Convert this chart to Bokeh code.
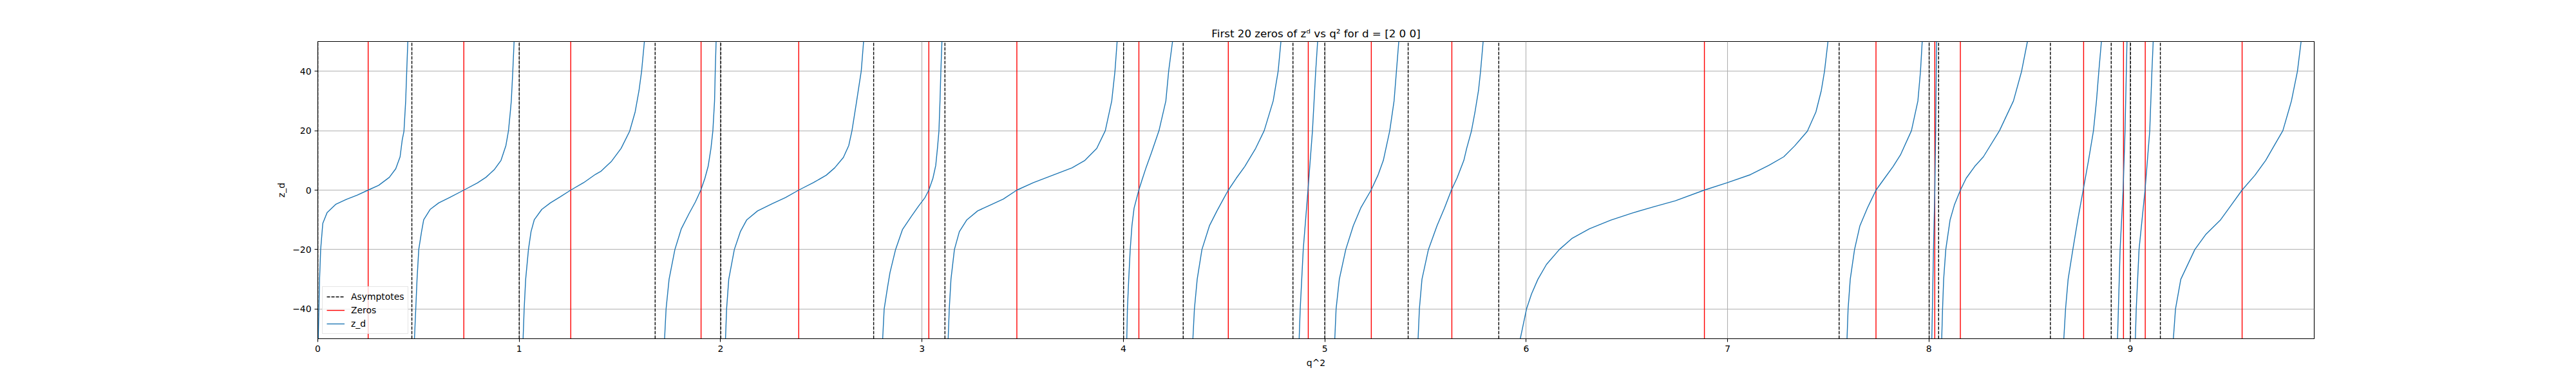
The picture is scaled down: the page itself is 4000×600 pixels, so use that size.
from bokeh.plotting import figure
from bokeh.models import Range1d, FixedTicker
from bokeh.embed import file_html
from bokeh.resources import INLINE

# axis limits and ticks
X_LO, X_HI = 0.0, 9.913
Y_LO, Y_HI = -50, 50
x_ticks = [0, 1, 2, 3, 4, 5, 6, 7, 8, 9]
y_ticks = [-40, -20, 0, 20, 40]

# poles (dashed black) and zeros (red)
asymptotes = [0.0, 0.467, 1.0, 1.675, 2.001, 2.760, 3.114, 4.001, 4.297, 4.842,
              5.0, 5.414, 5.864, 7.554, 8.001, 8.048, 8.603, 8.905, 9.001, 9.149]
zeros = [0.250, 0.725, 1.256, 1.903, 2.388, 3.034, 3.471, 4.077, 4.521, 4.918,
         5.231, 5.631, 6.885, 7.737, 8.029, 8.156, 8.768, 8.966, 9.074, 9.555]

# z_d, one branch between each pair of poles (q^2, z_d)
b1_x = [0.0023, 0.0055, 0.0087, 0.0141, 0.0247, 0.0461, 0.0887, 0.142, 0.1953, 0.2497,
        0.302, 0.3552, 0.3871, 0.4085, 0.4192, 0.4277, 0.4362, 0.4415, 0.4469]
b1_y = [-50, -40, -30, -20, -11.2, -7.6, -4.8, -3.1, -1.7, 0,
        1.6, 4.3, 7.2, 11.2, 16.9, 19.8, 29.9, 40, 50]
b2_x = [0.4799, 0.4863, 0.4927, 0.5012, 0.5151, 0.5257, 0.5577, 0.6004, 0.6537, 0.7251,
        0.7923, 0.8349, 0.8776, 0.9096, 0.934, 0.9468, 0.9554, 0.9607, 0.9682, 0.9746]
b2_y = [-50, -40, -30, -20, -14, -10, -6.5, -4.3, -2.5, 0,
        2.4, 4.3, 7, 10, 15, 20, 26, 30, 40, 50]
b3_x = [1.0193, 1.0246, 1.0321, 1.0459, 1.0587, 1.0747, 1.1121, 1.1547, 1.2027, 1.2559,
        1.3199, 1.3785, 1.405, 1.4585, 1.506, 1.5484, 1.5757, 1.5949, 1.6078, 1.6216]
b3_y = [-50, -40, -30, -20, -14, -10, -6.5, -4.3, -2.3, 0,
        2.5, 5.3, 6.3, 9.7, 14.05, 19.8, 26.3, 33.5, 40, 50]
b4_x = [1.7218, 1.7293, 1.7442, 1.773, 1.805, 1.8425, 1.8747, 1.9018, 1.9222, 1.9382,
        1.952, 1.9617, 1.97, 1.9734, 1.9777]
b4_y = [-50, -40, -30, -20, -13, -8, -4, 0, 4, 8, 14, 20, 30, 40, 50]
b5_x = [2.0244, 2.0298, 2.0405, 2.0682, 2.098, 2.13, 2.1834, 2.258, 2.322, 2.3878,
        2.4605, 2.5245, 2.5667, 2.6097, 2.6364, 2.6524, 2.6757, 2.6983, 2.71]
b5_y = [-50, -40, -30, -20, -14, -10, -7, -4.5, -2.5, 0,
        2.5, 5, 7.5, 11, 15, 20, 30, 40, 50]
b6_x = [2.8048, 2.8122, 2.8283, 2.841, 2.8688, 2.9029, 2.9454, 2.983, 3.015, 3.034,
        3.0544, 3.0683, 3.0766, 3.0841, 3.0894, 3.0937, 3.099]
b6_y = [-50, -40, -33, -27.8, -20, -13.3, -9, -5.4, -2.5, 0,
        4, 8.3, 14, 19.8, 29.9, 40, 50]
b7_x = [3.13, 3.1354, 3.1439, 3.161, 3.1855, 3.2228, 3.2761, 3.34, 3.404, 3.4711,
        3.5532, 3.6491, 3.7451, 3.809, 3.8676, 3.9102, 3.9422, 3.9582, 3.9689]
b7_y = [-50, -40, -30, -20, -14, -10, -7, -5, -3, 0,
        2.5, 5, 7.5, 10, 14, 20, 30, 40, 50]
b8_x = [4.0169, 4.02, 4.0265, 4.0339, 4.0425, 4.0531, 4.0766, 4.0915, 4.1128, 4.1395,
        4.1768, 4.2109, 4.2248, 4.244]
b8_y = [-50, -40, -30, -20, -12, -6.1, 0, 3.2, 7.6, 12.6, 20, 30, 40, 50]
b9_x = [4.3452, 4.3527, 4.3665, 4.39, 4.4273, 4.4646, 4.4966, 4.5211, 4.5606, 4.6032,
        4.6565, 4.6992, 4.7439, 4.7685, 4.7823]
b9_y = [-50, -40, -30, -20, -12, -7, -3, 0, 4, 8, 14, 20, 30, 40, 50]
b10_x = [4.8728, 4.8781, 4.8931, 4.9166, 4.9389, 4.9549, 4.9645]
b10_y = [-50, -40, -20, 0, 20, 40, 50]
b11_x = [5.0498, 5.0562, 5.0722, 5.1042, 5.1415, 5.1788, 5.23, 5.2641, 5.2908, 5.3227,
         5.3441, 5.3558, 5.3675]
b11_y = [-50, -40, -30, -20, -12, -6, 0, 5, 10, 20, 30, 40, 50]
b12_x = [5.4634, 5.4698, 5.4826, 5.5146, 5.5572, 5.5946, 5.6287, 5.6564, 5.6905, 5.7044,
         5.728, 5.746, 5.7633, 5.7736, 5.7864]
b12_y = [-50, -40, -30, -20, -12, -6, 0, 4, 10, 14, 19.8, 26.3, 33.5, 40, 50]
b13_x = [5.9708, 6.0017, 6.0262, 6.0582, 6.1009, 6.1648, 6.2288, 6.3141, 6.4207, 6.5273,
         6.6339, 6.7405, 6.8845, 6.9995, 7.1136, 7.2043, 7.2789, 7.3322, 7.3962, 7.4388,
         7.4655, 7.4815, 7.4986]
b13_y = [-50, -40, -35, -30, -25, -20, -16.2, -13.0, -10.1, -7.7,
         -5.6, -3.6, 0, 2.5, 5.2, 8.3, 11.2, 14.8, 19.8, 26.3,
         33.5, 40, 50]
b14_x = [7.5932, 7.5985, 7.6092, 7.6305, 7.6572, 7.6945, 7.7158, 7.7372, 7.7798, 7.8225,
         7.8598, 7.9131, 7.9451, 7.958, 7.9665]
b14_y = [-50, -40, -30, -20, -12, -6, -3, 0, 4, 8, 12, 20, 30, 40, 50]
b15_x = [8.0143, 8.0225, 8.0292, 8.0335, 8.0378]
b15_y = [-50, -20, 0, 20, 50]
b16_x = [8.0634, 8.0676, 8.073, 8.0836, 8.105, 8.1263, 8.1562, 8.185, 8.2276, 8.2703,
         8.3503, 8.4196, 8.4601, 8.489]
b16_y = [-50, -40, -30, -20, -10, -5, 0, 4, 8, 11.2, 20, 30, 40, 50]
b17_x = [8.6697, 8.6783, 8.6911, 8.7145, 8.739, 8.7657, 8.7924, 8.8169, 8.8318, 8.8435,
         8.8563]
b17_y = [-50, -40, -30, -20, -10, 0, 10, 20, 30, 40, 50]
b18_x = [8.9364, 8.9492, 8.9641, 8.9737, 8.9833]
b18_y = [-50, -20, 0, 20, 50]
b19_x = [9.025, 9.0293, 9.0432, 9.073, 9.0964, 9.1071, 9.1135]
b19_y = [-50, -40, -20, 0, 20, 40, 50]
b20_x = [9.2136, 9.2242, 9.2505, 9.3202, 9.3735, 9.4481, 9.5014, 9.5547, 9.6187, 9.672,
         9.7147, 9.7573, 9.7999, 9.8298, 9.8479]
b20_y = [-50, -40, -30, -20, -15, -10, -5, 0, 5, 10, 15, 20, 30, 40, 50]

branch_x = [b1_x, b2_x, b3_x, b4_x, b5_x, b6_x, b7_x, b8_x, b9_x, b10_x,
            b11_x, b12_x, b13_x, b14_x, b15_x, b16_x, b17_x, b18_x, b19_x, b20_x]
branch_y = [b1_y, b2_y, b3_y, b4_y, b5_y, b6_y, b7_y, b8_y, b9_y, b10_y,
            b11_y, b12_y, b13_y, b14_y, b15_y, b16_y, b17_y, b18_y, b19_y, b20_y]

FONT = "DejaVu Sans"

p = figure(frame_width=3100, frame_height=462,
           min_border_left=493, min_border_right=391,
           min_border_top=64, min_border_bottom=58,
           x_range=Range1d(X_LO, X_HI), y_range=Range1d(Y_LO, Y_HI),
           output_backend="svg", toolbar_location=None,
           title="First 20 zeros of zᵈ vs q² for d = [2 0 0]")
p.background_fill_color = "white"
p.border_fill_color = "white"
p.outline_line_color = "black"
p.outline_line_width = 1.1

p.title.align = "center"
p.title.text_font = FONT
p.title.text_font_size = "16.7px"
p.title.text_font_style = "normal"
p.title.text_color = "black"
p.title.standoff = 6

# vertical asymptotes and zeros, full height of the axes
n_a = len(asymptotes)
p.segment(x0=asymptotes, x1=asymptotes, y0=[Y_LO] * n_a, y1=[Y_HI] * n_a,
          line_color="black", line_dash="5 2", line_width=1.4,
          legend_label="Asymptotes")
n_z = len(zeros)
p.segment(x0=zeros, x1=zeros, y0=[Y_LO] * n_z, y1=[Y_HI] * n_z,
          line_color="red", line_width=1.4, legend_label="Zeros")
p.multi_line(xs=branch_x, ys=branch_y, line_color="#1f77b4", line_width=1.4,
             legend_label="z_d")

# axes
p.xaxis.ticker = FixedTicker(ticks=x_ticks)
p.yaxis.ticker = FixedTicker(ticks=y_ticks)
p.yaxis.major_label_overrides = {-40: "−40", -20: "−20"}
p.xaxis.axis_label = "q^2"
p.yaxis.axis_label = "z_d"
for ax in (p.xaxis, p.yaxis):
    ax.axis_line_color = "black"
    ax.axis_line_width = 1.1
    ax.major_tick_line_color = "black"
    ax.major_tick_line_width = 1.1
    ax.major_tick_out = 5
    ax.major_tick_in = 0
    ax.minor_tick_line_color = None
    ax.major_label_standoff = 5
    ax.major_label_text_font = FONT
    ax.major_label_text_font_size = "13.9px"
    ax.major_label_text_color = "black"
    ax.axis_label_text_font = FONT
    ax.axis_label_text_font_size = "13.9px"
    ax.axis_label_text_font_style = "normal"
    ax.axis_label_text_color = "black"
    ax.axis_label_standoff = 6

p.xgrid.grid_line_color = "#b0b0b0"
p.ygrid.grid_line_color = "#b0b0b0"
p.xgrid.grid_line_width = 1.1
p.ygrid.grid_line_width = 1.1

# legend, lower left like matplotlib's
p.legend.location = "bottom_left"
p.legend.margin = 7
p.legend.padding = 6
p.legend.spacing = 3
p.legend.label_height = 18
p.legend.glyph_height = 18
p.legend.glyph_width = 28
p.legend.label_standoff = 10
p.legend.label_text_font = FONT
p.legend.label_text_font_size = "13.9px"
p.legend.label_text_color = "black"
p.legend.border_line_color = "#cccccc"
p.legend.border_line_width = 1
p.legend.background_fill_alpha = 0.8

open("out.html", "w").write(file_html(p, INLINE))
